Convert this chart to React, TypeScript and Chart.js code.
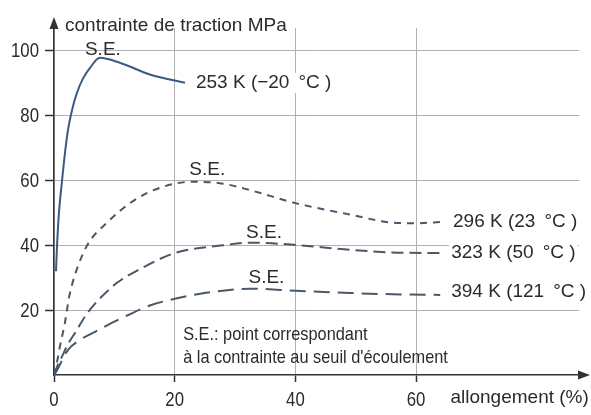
import React, { useEffect, useRef } from "react";
import { Chart, registerables } from "chart.js";

Chart.register(...registerables);

// ---- data (allongement %, contrainte MPa) ----
const xTicks = [0, 20, 40, 60];
const yTicks = [20, 40, 60, 80, 100];

const k253X = [0.33, 0.5, 0.83, 1.33, 1.82, 2.32, 3.0, 3.8, 4.8, 6.0, 7.6, 11, 16, 21.7];
const k253Y = [32, 39.8, 50.3, 59.9, 68.5, 75.6, 81.8, 87, 91.4, 94.8, 97.8, 96.2, 92.6, 90.1];

const k296X = [0, 0.5, 1, 1.8, 2.5, 3.5, 5.5, 8.8, 13.4, 18, 23, 28, 32.5, 40, 49, 56, 60, 64.3];
const k296Y = [0, 4, 9, 16, 24, 31, 40, 47, 54, 58, 59.6, 59, 57, 53, 49.5, 47, 46.8, 47.2];

const k323X = [0, 0.6, 1.3, 2.3, 3.5, 5.3, 7.3, 10.5, 14, 20, 28, 32.5, 40.8, 49, 56, 64];
const k323Y = [0, 3, 5.6, 9.5, 13, 18.5, 23, 28.5, 32.4, 37.6, 40, 40.8, 40, 38.6, 37.8, 37.6];

const k394X = [0, 0.5, 2.3, 4.3, 6.8, 9.5, 12.3, 16, 20, 24, 28, 32.5, 40, 49, 56, 64];
const k394Y = [0, 1.5, 7.7, 10.8, 13.3, 16, 18.5, 21.5, 23.5, 25, 26, 26.6, 26, 25.3, 24.9, 24.7];

const seriesLabels = ["253 K (−20\u2009 °C )", "296 K (23\u2009 °C )", "323 K (50\u2009 °C )", "394 K (121\u2009 °C )"];
const labelDy = [0, 0, 0, -3];

// S.E. (seuil d'écoulement) label anchors
const seX = [8.1, 25.4, 34.8, 35.2];
const seY = [100.3, 63.3, 43.8, 29.9];

const yTitle = "contrainte de traction MPa";
const xTitle = "allongement (%)";
const note1 = "S.E.: point correspondant";
const note2 = "à la contrainte au seuil d'écoulement";

const TEXT_FONT = '19px "Liberation Sans", Arial, sans-serif';
const TICK_FONT = '19.5px "Liberation Sans", Arial, sans-serif';
const TEXT_COLOR = "#2b2b2b";
const AXIS_COLOR = "#333";
const GRID_COLOR = "#b0b0b0";

function pts(xs: number[], ys: number[]) {
  return xs.map((v, i) => ({ x: v, y: ys[i] }));
}

function squeezed(ctx: CanvasRenderingContext2D, text: string, px: number, py: number, sx: number) {
  ctx.save();
  ctx.translate(px, py);
  ctx.scale(sx, 1);
  ctx.fillText(text, 0, 0);
  ctx.restore();
}

const annotPlugin = {
  id: "annot",
  afterDraw(chart: any) {
    const { ctx, chartArea } = chart;
    const x = chart.scales.x;
    const y = chart.scales.y;
    ctx.save();
    // arrows
    ctx.fillStyle = AXIS_COLOR;
    const x0 = x.getPixelForValue(0);
    const y0 = y.getPixelForValue(0);
    ctx.beginPath();
    ctx.moveTo(x0, chartArea.top - 11);
    ctx.lineTo(x0 - 4.5, chartArea.top + 1);
    ctx.lineTo(x0 + 4.5, chartArea.top + 1);
    ctx.closePath();
    ctx.fill();
    ctx.beginPath();
    ctx.moveTo(chartArea.right + 11, y0);
    ctx.lineTo(chartArea.right - 1, y0 - 4.5);
    ctx.lineTo(chartArea.right - 1, y0 + 4.5);
    ctx.closePath();
    ctx.fill();

    ctx.fillStyle = TEXT_COLOR;
    ctx.textBaseline = "middle";

    // tick labels (condensed look)
    ctx.font = TICK_FONT;
    ctx.textAlign = "right";
    y.ticks.forEach((t: any) => {
      squeezed(ctx, String(t.value), x0 - 15, y.getPixelForValue(t.value) + 1, 0.86);
    });
    ctx.textAlign = "center";
    x.ticks.forEach((t: any) => {
      squeezed(ctx, String(t.value), x.getPixelForValue(t.value), y0 + 26, 0.86);
    });

    ctx.font = TEXT_FONT;
    // axis titles
    ctx.textAlign = "left";
    ctx.fillText(yTitle, x0 + 11, y.getPixelForValue(107.7));
    ctx.fillText(xTitle, x.getPixelForValue(65.7), y0 + 23);

    // curve labels
    chart.data.datasets.forEach((_d: any, i: number) => {
      const meta = chart.getDatasetMeta(i);
      const last = meta.data[meta.data.length - 1];
      const tx = last.x + 11;
      const ty = last.y + labelDy[i];
      const w = ctx.measureText(seriesLabels[i]).width;
      ctx.fillStyle = "#fff";
      ctx.fillRect(tx - 2, ty - 10, w + 4, 20);
      ctx.fillStyle = TEXT_COLOR;
      ctx.fillText(seriesLabels[i], tx, ty);
    });

    // S.E. labels
    ctx.textAlign = "center";
    seX.forEach((v, i) => {
      ctx.fillText("S.E.", x.getPixelForValue(v), y.getPixelForValue(seY[i]));
    });

    // note (condensed)
    ctx.textAlign = "left";
    squeezed(ctx, note1, x.getPixelForValue(21.4), y.getPixelForValue(12.3), 0.86);
    squeezed(ctx, note2, x.getPixelForValue(21.4), y.getPixelForValue(5.2), 0.86);
    ctx.restore();
  },
};

export default function App() {
  const ref = useRef<HTMLCanvasElement | null>(null);
  useEffect(() => {
    if (!ref.current) return;
    const common = {
      pointRadius: 0,
      borderWidth: 2,
      cubicInterpolationMode: "monotone" as const,
      fill: false,
    };
    const gridCommon = {
      color: GRID_COLOR,
      borderDash: [1, 3],
      lineWidth: 1,
      tickColor: AXIS_COLOR,
      tickBorderDash: [],
      tickWidth: 1.5,
    };
    const chart = new Chart(ref.current, {
      type: "line",
      data: {
        datasets: [
          { ...common, label: seriesLabels[0], data: pts(k253X, k253Y), borderColor: "#3a5a80" },
          { ...common, label: seriesLabels[1], data: pts(k296X, k296Y), borderColor: "#485868", borderDash: [7, 6] },
          { ...common, label: seriesLabels[2], data: pts(k323X, k323Y), borderColor: "#485868", borderDash: [12, 6] },
          { ...common, label: seriesLabels[3], data: pts(k394X, k394Y), borderColor: "#485868", borderDash: [16, 8] },
        ],
      },
      options: {
        animation: false,
        responsive: true,
        maintainAspectRatio: false,
        layout: { padding: { top: 28, right: 12, left: 0, bottom: 0 } },
        plugins: { legend: { display: false }, tooltip: { enabled: false } },
        scales: {
          x: {
            type: "linear",
            min: 0,
            max: 87,
            afterBuildTicks: (s: any) => {
              s.ticks = xTicks.map((v) => ({ value: v }));
            },
            afterFit: (s: any) => {
              s.height = 40;
            },
            ticks: { display: false },
            grid: { ...gridCommon, tickLength: 7 },
            border: { color: AXIS_COLOR, width: 1.5 },
          },
          y: {
            type: "linear",
            min: 0,
            max: 107,
            afterBuildTicks: (s: any) => {
              s.ticks = yTicks.map((v) => ({ value: v }));
            },
            afterFit: (s: any) => {
              s.width = 54;
            },
            ticks: { display: false },
            grid: { ...gridCommon, tickLength: 9 },
            border: { color: AXIS_COLOR, width: 1.5 },
          },
        },
      },
      plugins: [annotPlugin],
    } as any);
    return () => chart.destroy();
  }, []);
  return (
    <div style={{ position: "absolute", left: 0, top: 0, width: 591, height: 415, background: "#fff" }}>
      <canvas ref={ref} />
    </div>
  );
}
